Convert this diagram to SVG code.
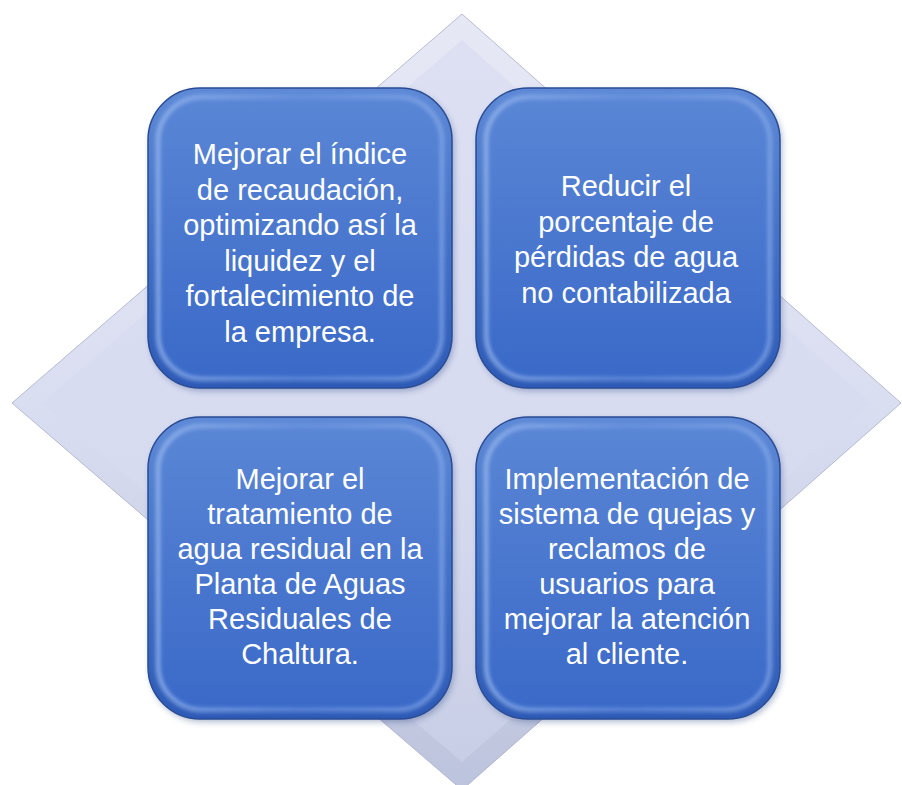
<svg xmlns="http://www.w3.org/2000/svg" width="902" height="785" viewBox="0 0 902 785">
<defs>
  <linearGradient id="diaOuter" x1="0" y1="0" x2="0" y2="1">
    <stop offset="0" stop-color="#e6e8f5"/>
    <stop offset="0.5" stop-color="#dadef1"/>
    <stop offset="1" stop-color="#bcc3dc"/>
  </linearGradient>
  <linearGradient id="diaInner" x1="0" y1="0" x2="0" y2="1">
    <stop offset="0" stop-color="#dde0f2"/>
    <stop offset="0.6" stop-color="#d7dbf0"/>
    <stop offset="1" stop-color="#c8cee5"/>
  </linearGradient>
  <linearGradient id="boxRim" x1="0" y1="0" x2="0" y2="1">
    <stop offset="0" stop-color="#5d89d6"/>
    <stop offset="1" stop-color="#2d5ab6"/>
  </linearGradient>
  <linearGradient id="boxFace" x1="0" y1="0" x2="0" y2="1">
    <stop offset="0" stop-color="#5a86d5"/>
    <stop offset="1" stop-color="#3a69c8"/>
  </linearGradient>
  <linearGradient id="rimHi" x1="0" y1="0" x2="1" y2="0">
    <stop offset="0" stop-color="#a9c6f6"/>
    <stop offset="0.5" stop-color="#6f97e0"/>
    <stop offset="1" stop-color="#8fb1ee"/>
  </linearGradient>
  <filter id="soft" x="-10%" y="-10%" width="120%" height="120%">
    <feGaussianBlur stdDeviation="2"/>
  </filter>
  <filter id="shadow" x="-10%" y="-10%" width="120%" height="120%">
    <feGaussianBlur stdDeviation="3"/>
  </filter>
</defs>
<style>
  .rim { fill: url(#boxRim); stroke: #2a4c94; stroke-width: 1.5; }
  .face { fill: url(#boxFace); }
  .hi { fill: none; stroke: url(#rimHi); stroke-width: 4; opacity: 0.75; filter: url(#soft); }
  .sh { fill: #1e3a78; opacity: 0.35; filter: url(#shadow); }
  .lbl { font-family: "Liberation Sans", Arial, sans-serif; font-size: 29px; fill: #ffffff; text-anchor: middle; }
</style>

<g id="background">
  <polygon points="462,14 901,403 462,790 12,403" fill="url(#diaOuter)" stroke="#a8adc6" stroke-width="0.8"/>
  <polygon points="462,40 871,403 462,762 42,403" fill="url(#diaInner)"/>
</g>

<g id="connectors"></g>

<g id="node-tl">
  <rect class="sh" x="150" y="91" width="304" height="300" rx="52"/>
  <rect class="rim" x="148" y="88" width="304" height="300" rx="52"/>
  <rect class="face" x="158" y="97" width="284" height="282" rx="44"/>
  <rect class="hi" x="158" y="97" width="284" height="282" rx="44"/>
  <text class="lbl" x="300" y="164">Mejorar el índice</text>
  <text class="lbl" x="300" y="199.5">de recaudación,</text>
  <text class="lbl" x="300" y="235">optimizando así la</text>
  <text class="lbl" x="300" y="270.5">liquidez y el</text>
  <text class="lbl" x="300" y="306">fortalecimiento de</text>
  <text class="lbl" x="300" y="341.5">la empresa.</text>
</g>

<g id="node-tr">
  <rect class="sh" x="478" y="91" width="304" height="300" rx="52"/>
  <rect class="rim" x="476" y="88" width="304" height="300" rx="52"/>
  <rect class="face" x="486" y="97" width="284" height="282" rx="44"/>
  <rect class="hi" x="486" y="97" width="284" height="282" rx="44"/>
  <text class="lbl" x="626" y="196">Reducir el</text>
  <text class="lbl" x="626" y="231.5">porcentaje de</text>
  <text class="lbl" x="626" y="267">pérdidas de agua</text>
  <text class="lbl" x="626" y="302.5">no contabilizada</text>
</g>

<g id="node-bl">
  <rect class="sh" x="150" y="420" width="304" height="302" rx="52"/>
  <rect class="rim" x="148" y="417" width="304" height="302" rx="52"/>
  <rect class="face" x="158" y="426" width="284" height="284" rx="44"/>
  <rect class="hi" x="158" y="426" width="284" height="284" rx="44"/>
  <text class="lbl" x="300" y="489">Mejorar el</text>
  <text class="lbl" x="300" y="524">tratamiento de</text>
  <text class="lbl" x="300" y="559">agua residual en la</text>
  <text class="lbl" x="300" y="594">Planta de Aguas</text>
  <text class="lbl" x="300" y="629">Residuales de</text>
  <text class="lbl" x="300" y="664">Chaltura.</text>
</g>

<g id="node-br">
  <rect class="sh" x="478" y="420" width="304" height="302" rx="52"/>
  <rect class="rim" x="476" y="417" width="304" height="302" rx="52"/>
  <rect class="face" x="486" y="426" width="284" height="284" rx="44"/>
  <rect class="hi" x="486" y="426" width="284" height="284" rx="44"/>
  <text class="lbl" x="627" y="489">Implementación de</text>
  <text class="lbl" x="627" y="524">sistema de quejas y</text>
  <text class="lbl" x="627" y="559">reclamos de</text>
  <text class="lbl" x="627" y="594">usuarios para</text>
  <text class="lbl" x="627" y="629">mejorar la atención</text>
  <text class="lbl" x="627" y="664">al cliente.</text>
</g>
</svg>
